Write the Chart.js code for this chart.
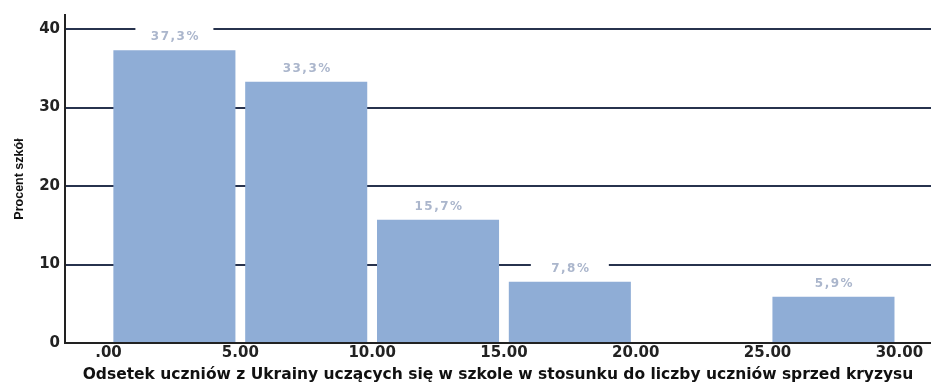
<!DOCTYPE html>
<html>
<head>
<meta charset="utf-8">
<script src="https://cdn.jsdelivr.net/npm/chart.js@4"></script>
<style>
  html, body { margin: 0; padding: 0; background: #fff; }
  #wrap { width: 931px; height: 383px; }
</style>
</head>
<body>
<div id="wrap"><canvas id="histChart"></canvas></div>
<script>
// bins of 5 percentage points, value = share of schools
const binCenters = [2.5, 7.5, 12.5, 17.5, 22.5, 27.5];
const schoolShares = [37.3, 33.3, 15.7, 7.8, 0, 5.9];
const xTickValues = [0, 5, 10, 15, 20, 25, 30];
const xTickLabels = ['.00', '5.00', '10.00', '15.00', '20.00', '25.00', '30.00'];
const yTickValues = [0, 10, 20, 30, 40];

const barColor = '#8fadd6';
const gridColor = '#27324d';
const labelColor = '#abb6cc';

// percentage labels over the bars, with a white box that breaks the grid line
const valueLabels = {
    id: 'valueLabels',
    afterDatasetsDraw(chart) {
        const ctx = chart.ctx;
        const meta = chart.getDatasetMeta(0);
        ctx.save();
        ctx.font = 'bold 12px "DejaVu Sans", sans-serif';
        ctx.textAlign = 'center';
        ctx.textBaseline = 'middle';
        if ('letterSpacing' in ctx) ctx.letterSpacing = '1.5px';
        meta.data.forEach((bar, i) => {
            const v = schoolShares[i];
            if (!v) return;
            const txt = v.toFixed(1).replace('.', ',') + '%';
            const cy = bar.y - 13;
            ctx.fillStyle = '#fff';
            ctx.fillRect(bar.x - 39, cy - 11, 78, 22);
            ctx.fillStyle = labelColor;
            ctx.fillText(txt, bar.x + 1, cy);
        });
        ctx.restore();
    }
};

const ctx = document.getElementById('histChart').getContext('2d');
new Chart(ctx, {
    type: 'bar',
    data: {
        datasets: [{
            data: binCenters.map((x, i) => ({ x: x, y: schoolShares[i] })),
            backgroundColor: barColor,
            borderWidth: 0,
            barPercentage: 0.926,
            categoryPercentage: 1
        }]
    },
    options: {
        responsive: true,
        maintainAspectRatio: false,
        animation: false,
        layout: { padding: { top: 15, right: 0, left: 0, bottom: 0 } },
        plugins: {
            legend: { display: false },
            tooltip: { enabled: false }
        },
        scales: {
            x: {
                type: 'linear',
                offset: false,
                min: -1.65,
                max: 31.2,
                afterBuildTicks: scale => {
                    scale.ticks = xTickValues.map(v => ({ value: v }));
                },
                afterFit: scale => { scale.height = 40; },
                grid: { display: false, drawTicks: false },
                border: { color: '#222', width: 2 },
                ticks: {
                    color: '#222',
                    padding: 1,
                    maxRotation: 0,
                    font: { family: '"DejaVu Sans", sans-serif', size: 15, weight: 'bold' },
                    callback: (v) => xTickLabels[xTickValues.indexOf(v)]
                },
                title: {
                    display: true,
                    text: 'Odsetek uczniów z Ukrainy uczących się w szkole w stosunku do liczby uczniów sprzed kryzysu',
                    color: '#111',
                    padding: { top: 0, bottom: -1 },
                    font: { family: '"DejaVu Sans", sans-serif', size: 15.5, weight: 'bold' }
                }
            },
            y: {
                min: 0,
                max: 41.8,
                afterBuildTicks: scale => {
                    scale.ticks = yTickValues.map(v => ({ value: v }));
                },
                afterFit: scale => { scale.width = 65; },
                grid: {
                    color: (c) => c.tick && c.tick.value === 0 ? 'rgba(0,0,0,0)' : gridColor,
                    lineWidth: 2,
                    drawTicks: false
                },
                border: { color: '#222', width: 2 },
                ticks: {
                    color: '#222',
                    padding: 5,
                    font: { family: '"DejaVu Sans", sans-serif', size: 15, weight: 'bold' }
                },
                title: {
                    display: true,
                    text: 'Procent szkół',
                    color: '#111',
                    padding: { top: 12, bottom: 4 },
                    font: { family: '"Liberation Sans Narrow", "Arial Narrow", sans-serif', size: 12.5, weight: 'bold' }
                }
            }
        }
    },
    plugins: [valueLabels]
});
</script>
</body>
</html>
